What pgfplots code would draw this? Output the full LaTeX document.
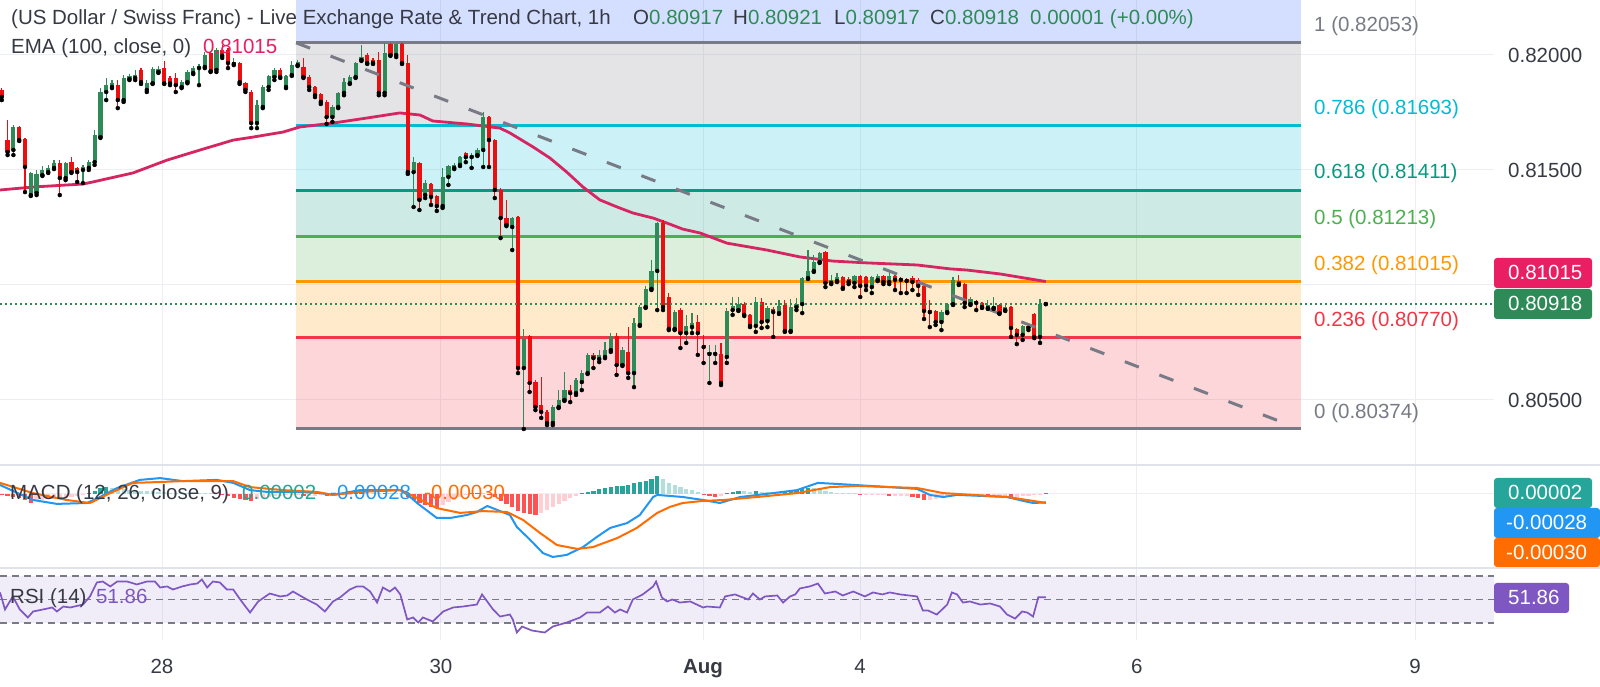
\documentclass[border=0pt]{standalone}
\usepackage{fontspec}
\setmainfont{Liberation Sans}
\usepackage{pgfplots}
\usepackage{pgfplotstable}
\pgfplotsset{compat=1.18}

\definecolor{cgreen}{RGB}{46,139,87}
\definecolor{cred}{RGB}{235,15,15}
\definecolor{ema}{RGB}{214,38,98}
\definecolor{fibgray}{RGB}{120,123,134}
\definecolor{fibcyan}{RGB}{0,188,212}
\definecolor{fibteal}{RGB}{8,153,129}
\definecolor{fibgreen}{RGB}{76,175,80}
\definecolor{fiborange}{RGB}{255,152,0}
\definecolor{fibred}{RGB}{242,54,69}
\definecolor{fibblue}{RGB}{41,98,255}
\definecolor{gridc}{RGB}{236,238,243}
\definecolor{txt}{RGB}{55,58,68}
\definecolor{macdblue}{RGB}{33,150,243}
\definecolor{macdorange}{RGB}{255,109,0}
\definecolor{hteal}{RGB}{38,166,154}
\definecolor{hlteal}{RGB}{178,223,219}
\definecolor{hred}{RGB}{255,82,82}
\definecolor{hpink}{RGB}{255,205,210}
\definecolor{rsic}{RGB}{126,87,194}
\definecolor{pinkbox}{RGB}{233,30,99}
\definecolor{sepc}{RGB}{224,227,235}

\newcommand\tvf{\fontsize{20.5}{24}\selectfont}

% hourly candles: index, open, high, low, close
\pgfplotstableread{
i o h l c
0 0.81848 0.81856 0.81804 0.81818
1 0.81630 0.81717 0.81565 0.81578
2 0.81587 0.81695 0.81565 0.81687
3 0.81687 0.81691 0.81626 0.81630
4 0.81634 0.81639 0.81404 0.81513
5 0.81391 0.81491 0.81387 0.81487
6 0.81400 0.81500 0.81391 0.81483
7 0.81478 0.81517 0.81474 0.81500
8 0.81491 0.81522 0.81487 0.81509
9 0.81509 0.81543 0.81504 0.81530
10 0.81530 0.81543 0.81391 0.81465
11 0.81465 0.81535 0.81456 0.81530
12 0.81534 0.81556 0.81487 0.81491
13 0.81509 0.81513 0.81448 0.81491
14 0.81500 0.81522 0.81443 0.81513
15 0.81509 0.81543 0.81500 0.81534
16 0.81534 0.81674 0.81522 0.81652
17 0.81643 0.81856 0.81639 0.81839
18 0.81839 0.81899 0.81804 0.81869
19 0.81861 0.81891 0.81856 0.81877
20 0.81869 0.81891 0.81769 0.81804
21 0.81804 0.81913 0.81796 0.81900
22 0.81895 0.81917 0.81891 0.81909
23 0.81900 0.81935 0.81891 0.81913
24 0.81935 0.81943 0.81874 0.81882
25 0.81848 0.81891 0.81839 0.81877
26 0.81877 0.81948 0.81874 0.81939
27 0.81926 0.81952 0.81922 0.81939
28 0.81943 0.81974 0.81874 0.81877
29 0.81900 0.81909 0.81869 0.81877
30 0.81900 0.81922 0.81839 0.81869
31 0.81861 0.81891 0.81856 0.81882
32 0.81882 0.81935 0.81877 0.81926
33 0.81922 0.81952 0.81917 0.81943
34 0.81943 0.81961 0.81869 0.81952
35 0.81948 0.82013 0.81943 0.82000
36 0.82009 0.82013 0.81926 0.81930
37 0.81935 0.82030 0.81926 0.82022
38 0.82022 0.82043 0.81987 0.81996
39 0.82022 0.82030 0.81943 0.81965
40 0.81961 0.81987 0.81956 0.81970
41 0.81965 0.81970 0.81874 0.81882
42 0.81877 0.81882 0.81839 0.81848
43 0.81839 0.81848 0.81682 0.81704
44 0.81704 0.81804 0.81682 0.81783
45 0.81774 0.81869 0.81769 0.81861
46 0.81861 0.81913 0.81848 0.81909
47 0.81904 0.81943 0.81891 0.81935
48 0.81935 0.81943 0.81900 0.81904
49 0.81861 0.81913 0.81856 0.81909
50 0.81913 0.81974 0.81909 0.81956
51 0.81956 0.81978 0.81952 0.81970
52 0.81948 0.81987 0.81900 0.81904
53 0.81904 0.81913 0.81848 0.81861
54 0.81861 0.81865 0.81817 0.81825
55 0.81830 0.81835 0.81787 0.81796
56 0.81796 0.81804 0.81700 0.81730
57 0.81730 0.81783 0.81709 0.81774
58 0.81774 0.81839 0.81769 0.81835
59 0.81835 0.81900 0.81825 0.81882
60 0.81877 0.81913 0.81874 0.81904
61 0.81904 0.81970 0.81900 0.81965
62 0.81978 0.82043 0.81974 0.81991
63 0.82000 0.82009 0.81961 0.81965
64 0.81978 0.81987 0.81961 0.81965
65 0.81978 0.82013 0.81825 0.81835
66 0.81835 0.82052 0.81825 0.82009
67 0.82048 0.82053 0.81996 0.82000
68 0.82000 0.82053 0.81991 0.82048
69 0.82048 0.82052 0.81961 0.81965
70 0.81965 0.82000 0.81483 0.81491
71 0.81491 0.81556 0.81339 0.81534
72 0.81530 0.81534 0.81326 0.81370
73 0.81391 0.81456 0.81378 0.81443
74 0.81439 0.81443 0.81348 0.81383
75 0.81387 0.81391 0.81322 0.81343
76 0.81343 0.81509 0.81335 0.81470
77 0.81470 0.81522 0.81435 0.81517
78 0.81509 0.81530 0.81504 0.81522
79 0.81522 0.81561 0.81517 0.81556
80 0.81574 0.81578 0.81534 0.81556
81 0.81556 0.81574 0.81509 0.81565
82 0.81565 0.81596 0.81561 0.81587
83 0.81587 0.81752 0.81513 0.81730
84 0.81730 0.81735 0.81513 0.81630
85 0.81630 0.81634 0.81378 0.81413
86 0.81413 0.81422 0.81204 0.81291
87 0.81291 0.81370 0.81256 0.81261
88 0.81252 0.81296 0.81152 0.81291
89 0.81296 0.81300 0.80617 0.80639
90 0.80639 0.80809 0.80374 0.80765
91 0.80778 0.80783 0.80535 0.80574
92 0.80578 0.80587 0.80456 0.80469
93 0.80478 0.80600 0.80422 0.80448
94 0.80448 0.80456 0.80391 0.80400
95 0.80400 0.80478 0.80391 0.80469
96 0.80469 0.80543 0.80465 0.80500
97 0.80500 0.80622 0.80496 0.80543
98 0.80543 0.80565 0.80491 0.80530
99 0.80530 0.80596 0.80522 0.80587
100 0.80578 0.80630 0.80543 0.80617
101 0.80617 0.80704 0.80613 0.80696
102 0.80696 0.80704 0.80639 0.80682
103 0.80678 0.80717 0.80665 0.80696
104 0.80687 0.80752 0.80682 0.80717
105 0.80717 0.80791 0.80709 0.80778
106 0.80778 0.80791 0.80609 0.80652
107 0.80652 0.80730 0.80648 0.80717
108 0.80709 0.80817 0.80596 0.80617
109 0.80617 0.80856 0.80556 0.80835
110 0.80826 0.80913 0.80822 0.80904
111 0.80904 0.80996 0.80900 0.80983
112 0.80983 0.81109 0.80978 0.81061
113 0.81061 0.81274 0.80891 0.81269
114 0.81269 0.81283 0.80891 0.80904
115 0.80948 0.80965 0.80804 0.80809
116 0.80809 0.80891 0.80804 0.80882
117 0.80891 0.80900 0.80726 0.80791
118 0.80791 0.80870 0.80748 0.80822
119 0.80817 0.80878 0.80791 0.80835
120 0.80839 0.80870 0.80696 0.80791
121 0.80739 0.80783 0.80661 0.80730
122 0.80700 0.80739 0.80574 0.80709
123 0.80700 0.80739 0.80661 0.80709
124 0.80700 0.80748 0.80565 0.80574
125 0.80687 0.80900 0.80661 0.80887
126 0.80891 0.80948 0.80870 0.80909
127 0.80891 0.80948 0.80887 0.80917
128 0.80917 0.80926 0.80865 0.80870
129 0.80870 0.80874 0.80817 0.80822
130 0.80822 0.80948 0.80796 0.80926
131 0.80926 0.80943 0.80813 0.80839
132 0.80843 0.80909 0.80817 0.80900
133 0.80896 0.80904 0.80774 0.80882
134 0.80878 0.80935 0.80874 0.80909
135 0.80913 0.80935 0.80796 0.80800
136 0.80800 0.80939 0.80796 0.80904
137 0.80904 0.80943 0.80891 0.80917
138 0.80917 0.81035 0.80878 0.81030
139 0.81030 0.81152 0.81026 0.81061
140 0.81061 0.81130 0.81057 0.81100
141 0.81100 0.81143 0.81096 0.81139
142 0.81143 0.81148 0.80991 0.81009
143 0.81009 0.81043 0.81004 0.81022
144 0.81017 0.81052 0.81013 0.81035
145 0.81035 0.81039 0.80983 0.80987
146 0.81026 0.81035 0.81004 0.81013
147 0.81009 0.81043 0.80991 0.81039
148 0.81039 0.81043 0.80948 0.80996
149 0.81035 0.81039 0.80978 0.80996
150 0.80991 0.81039 0.80965 0.81035
151 0.81022 0.81048 0.81017 0.81039
152 0.81039 0.81043 0.81004 0.81013
153 0.81013 0.81057 0.81004 0.81039
154 0.81039 0.81043 0.80978 0.81022
155 0.81030 0.81035 0.80965 0.81022
156 0.81026 0.81030 0.80965 0.81017
157 0.81030 0.81039 0.80978 0.81013
158 0.81022 0.81030 0.80957 0.80996
159 0.80996 0.81000 0.80852 0.80887
160 0.80891 0.80935 0.80817 0.80882
161 0.80887 0.80891 0.80826 0.80839
162 0.80839 0.80891 0.80804 0.80882
163 0.80882 0.80922 0.80878 0.80917
164 0.80917 0.81035 0.80913 0.81022
165 0.81017 0.81043 0.81000 0.81004
166 0.81004 0.81009 0.80904 0.80922
167 0.80917 0.80948 0.80913 0.80939
168 0.80930 0.80935 0.80891 0.80922
169 0.80922 0.80926 0.80900 0.80904
170 0.80900 0.80935 0.80896 0.80913
171 0.80900 0.80948 0.80896 0.80909
172 0.80913 0.80917 0.80874 0.80878
173 0.80891 0.80922 0.80887 0.80904
174 0.80904 0.80909 0.80774 0.80813
175 0.80809 0.80813 0.80743 0.80783
176 0.80783 0.80826 0.80761 0.80822
177 0.80822 0.80826 0.80804 0.80813
178 0.80874 0.80878 0.80769 0.80774
179 0.80774 0.80939 0.80748 0.80917
180 0.80917 0.80921 0.80917 0.80918
}\candles

% EMA(100, close)
\pgfplotstableread{
i v
-0.31 0.81413
5.38 0.81426
14.0 0.81439
15.7 0.81448
22.6 0.81487
28.5 0.81543
34.2 0.81587
39.9 0.81630
43.3 0.81643
48.5 0.81665
51.4 0.81687
57.1 0.81704
62.96 0.81726
68.6 0.81748
72.1 0.81739
74.3 0.81713
80.2 0.81700
85.9 0.81682
87.6 0.81661
91.6 0.81600
94.5 0.81552
97.4 0.81491
100.2 0.81426
103.1 0.81370
106.1 0.81339
108.8 0.81313
112.3 0.81291
114.7 0.81269
117.4 0.81243
120.4 0.81226
125.0 0.81182
131.9 0.81152
137.6 0.81122
143.3 0.81104
149.2 0.81096
157.8 0.81087
163.5 0.81070
166.4 0.81065
172.1 0.81048
180 0.81015
}\ema

% MACD line
\pgfplotstableread{
i v
-0.31 0.0003
5.38 -0.0002
9.5 -0.00033
14.7 -0.0003
16.9 -0.0001
19.9 0.0002
23.8 0.00047
27.3 0.00053
31.2 0.00043
37.1 0.00047
39.9 0.00037
42.8 0.00013
45.7 0.00007
51.4 0.00007
54.9 0.00003
57.1 -0.00003
61.8 0.00013
65.7 0.00013
68.7 0.00013
70.0 -0.00003
71.6 -0.0003
75.0 -0.0008
77.3 -0.0008
80.2 -0.0007
81.9 -0.0006
83.7 -0.0004
85.4 -0.00053
87.6 -0.0007
88.8 -0.0011
91.1 -0.00153
93.3 -0.00197
95.0 -0.0021
97.4 -0.00203
100.2 -0.00177
102.6 -0.00143
104.9 -0.00113
107.8 -0.00097
110.0 -0.0007
112.3 -0.0001
113.0 -0.00003
117.4 -0.0001
120.9 -0.0002
123.8 -0.0003
127.3 -0.0001
133.0 0.00003
137.1 0.00013
140.7 0.00037
144.5 0.00033
153.1 0.00023
157.8 0.00017
160.0 -0.00003
162.3 -0.0001
164.7 -0.00003
173.3 -0.0001
176.1 -0.00023
177.8 -0.0003
180 -0.00028
}\macd

% signal line
\pgfplotstableread{
i v
-0.31 0.00037
5.38 0.00003
11.2 -0.0002
15.2 -0.0003
18.7 0.00003
22.6 0.00037
27.3 0.0004
31.2 0.00043
39.9 0.00043
42.8 0.00023
48.5 0.00013
54.3 0.00007
57.1 -0.00003
61.8 0.00007
68.7 0.00013
71.6 -0.00013
75.0 -0.00047
79.0 -0.00063
83.0 -0.00057
87.1 -0.0006
89.9 -0.00087
92.8 -0.0013
95.7 -0.0017
99.2 -0.00183
101.9 -0.00177
106.1 -0.00147
109.5 -0.00113
113.0 -0.00063
115.2 -0.00043
117.4 -0.0003
120.9 -0.00023
124.4 -0.0002
130.2 -0.0001
137.1 0.00003
142.8 0.00023
147.5 0.00027
153.1 0.00023
157.8 0.0002
162.3 0.00003
167.5 -0.00003
173.3 -0.0001
177.8 -0.00023
180 -0.0003
}\signal

% histogram: falling below zero
\pgfplotstableread{
i v
0 -0.000033
1 -0.000067
2 -0.0001
3 -0.000133
4 -0.0002
5 -0.0003
38 -0.000033
39 -0.000067
40 -0.000133
41 -0.000167
42 -0.0002
43 -0.000217
52 -0.000067
56 -0.000067
70 -0.0001
71 -0.0002
72 -0.0003
73 -0.000367
74 -0.000433
75 -0.000467
84 -0.000033
85 -0.0001
86 -0.000233
87 -0.000333
88 -0.000433
89 -0.000567
90 -0.000633
91 -0.000667
92 -0.0007
121 -0.000033
122 -0.000067
123 -0.0001
148 -0.000033
153 -0.000067
157 -0.0001
158 -0.000133
159 -0.0002
166 -0.000067
170 -0.0001
174 -0.000133
}\hneg

% histogram: rising below zero
\pgfplotstableread{
i v
6 -0.000233
7 -0.0002
8 -0.000167
9 -0.000167
10 -0.000133
11 -0.000133
12 -0.0001
13 -0.000067
14 -0.000033
44 -0.000167
45 -0.000133
46 -0.0001
47 -0.000067
48 -0.000067
49 -0.000033
50 -0.000033
51 -0.000033
53 -0.000067
54 -0.000067
55 -0.000033
57 -0.000033
58 -0.000033
59 -0.000033
60 -0.000017
76 -0.000367
77 -0.000267
78 -0.0002
79 -0.0001
80 -0.000033
93 -0.000633
94 -0.000533
95 -0.000433
96 -0.000333
97 -0.000233
98 -0.000133
99 -0.000067
124 -0.000067
149 -0.000033
150 -0.000033
151 -0.000033
152 -0.000033
154 -0.000067
155 -0.000067
156 -0.000067
160 -0.0002
161 -0.000167
162 -0.000133
163 -0.0001
164 -0.000067
165 -0.000033
167 -0.000067
168 -0.000067
169 -0.000067
171 -0.0001
172 -0.0001
173 -0.0001
175 -0.000133
176 -0.000067
177 -0.000067
178 -0.000033
179 -0.000017
}\hnegup

% histogram: rising above zero
\pgfplotstableread{
i v
15 0.000033
16 0.0001
17 0.0002
18 0.000233
61 0.000017
62 0.000033
66 0.000033
81 0.000017
82 0.000033
100 0.000033
101 0.000067
102 0.0001
103 0.000167
104 0.0002
105 0.000233
106 0.000267
107 0.000283
108 0.0003
109 0.000367
110 0.0004
111 0.000433
112 0.0005
113 0.0006
125 0.000033
126 0.000067
127 0.0001
130 0.0001
135 0.0001
136 0.000117
137 0.000133
138 0.000167
139 0.0002
180 0.00002
}\hpos

% histogram: falling above zero
\pgfplotstableread{
i v
19 0.0002
20 0.000167
21 0.000167
22 0.000133
23 0.000133
24 0.0001
25 0.0001
26 0.0001
27 0.000067
28 0.000067
29 0.000033
30 0.000033
31 0.000033
32 0.000033
33 0.000033
34 0.000033
35 0.000033
36 0.000017
37 0.000017
63 0.000033
64 0.000033
65 0.000017
67 0.000033
68 0.000033
69 0.000017
83 0.000017
114 0.0005
115 0.000367
116 0.0003
117 0.000233
118 0.000167
119 0.000133
120 0.000067
128 0.0001
129 0.000067
131 0.000067
132 0.000067
133 0.000067
134 0.000067
140 0.0002
141 0.000167
142 0.0001
143 0.000067
144 0.000033
145 0.000033
146 0.000017
147 0.000017
}\hposdn

% RSI(14)
\pgfplotstableread{
i v
-0.3 56.0
0.55 41.5
1.9 52.6
3.1 41.5
4.5 34.7
5.4 39.8
7.1 41.5
8.7 43.2
9.5 39.8
10.6 44.0
11.8 43.2
14.0 45.7
15.2 52.6
16.4 64.5
17.4 65.3
18.7 61.1
19.9 65.3
21.6 65.3
23.3 62.8
25.0 65.3
26.4 65.3
27.3 60.2
28.5 61.1
29.5 58.5
31.1 61.1
32.5 62.8
33.7 63.6
34.5 67.0
35.4 60.2
36.4 65.3
37.6 64.5
38.8 58.5
39.9 58.5
41.1 50.0
42.8 38.9
44.2 48.3
46.2 55.1
48.0 52.6
49.2 53.4
50.2 56.8
52.6 50.0
54.3 45.7
55.7 39.8
57.1 48.3
58.3 51.7
60.0 58.5
61.2 61.1
62.3 61.1
63.5 56.8
64.7 47.4
65.7 60.2
66.9 56.8
67.8 60.2
68.7 54.3
69.9 33.0
70.9 34.7
71.8 30.4
72.6 34.7
74.3 31.3
76.1 39.8
77.8 43.2
79.5 44.0
81.9 45.7
82.8 54.3
84.7 41.5
85.9 35.5
87.6 37.2
88.1 33.0
88.8 21.9
89.7 27.0
91.4 23.6
93.6 21.9
95.0 27.0
97.4 30.4
99.7 34.7
100.9 38.9
103.1 38.9
104.5 44.0
105.7 38.9
106.6 41.5
107.8 38.9
108.8 50.0
110.5 54.3
112.3 61.1
112.8 65.3
113.8 51.7
114.7 48.3
115.6 50.0
116.9 47.4
118.7 48.3
120.9 43.2
121.6 44.0
123.8 43.2
124.7 52.6
126.4 54.3
128.7 50.0
129.5 55.1
130.7 50.0
131.6 52.6
133.7 53.4
134.7 47.4
135.9 52.6
136.8 54.3
137.6 59.4
139.3 61.1
140.7 63.6
141.9 55.1
143.7 56.8
145.0 53.4
146.8 56.8
148.8 52.6
150.2 56.0
151.8 54.3
153.1 56.0
154.9 54.3
157.8 52.6
158.8 40.6
159.7 40.6
161.2 37.2
163.0 45.7
163.8 56.0
164.7 54.3
165.7 47.4
166.9 48.3
168.7 45.7
170.4 46.6
172.1 44.0
173.3 37.2
174.7 33.8
175.9 39.8
176.8 38.9
177.8 35.5
178.7 51.9
180 51.86
}\rsi

\pgfplotsset{
  tvpanel/.style={
    scale only axis, width=1494pt, anchor=south west,
    xmin=-0.31, xmax=257.27,
    axis line style={draw=none}, major tick length=0pt,
    xtick={27.62,75.72,120.9,147.97,195.7,243.66},
    grid style={gridc, line width=1pt},
    scaled ticks=false,
  },
  wick/.style={only marks, mark=none, forget plot,
    error bars/y dir=plus, error bars/y explicit, error bars/error mark=none,
    error bars/error bar style={draw=#1, line width=1.3pt}},
  body/.style={only marks, mark=none, forget plot,
    error bars/y dir=plus, error bars/y explicit, error bars/error mark=none,
    error bars/error bar style={draw=#1, line width=4.2pt}},
}

\begin{document}
\begin{tikzpicture}
\useasboundingbox (0pt,0pt) rectangle (1600pt,687pt);
\fill[white] (0pt,0pt) rectangle (1600pt,687pt);

% ---------------- price panel ----------------
\begin{axis}[tvpanel, height=465pt, at={(0pt,222pt)},
  ymin=0.802174, ymax=0.822391,
  xticklabels={}, xmajorgrids, ymajorgrids,
  ytick={0.805,0.815,0.82}, yticklabel pos=right,
  extra y ticks={0.81}, extra y tick labels={},
  extra y tick style={grid=major},
  yticklabel style={anchor=west, inner sep=0pt, xshift=14pt, font=\tvf, text=txt,
    /pgf/number format/fixed, /pgf/number format/fixed zerofill,
    /pgf/number format/precision=5, /pgf/number format/assume math mode=true},
]
% Fibonacci zones
\addplot[fill=fibblue, fill opacity=0.2, draw=none] coordinates {(50.73,0.82053) (224,0.82053) (224,0.822391) (50.73,0.822391)} -- cycle;
\addplot[fill=fibgray, fill opacity=0.2, draw=none] coordinates {(50.73,0.82053) (224,0.82053) (224,0.81693) (50.73,0.81693)} -- cycle;
\addplot[fill=fibcyan, fill opacity=0.2, draw=none] coordinates {(50.73,0.81693) (224,0.81693) (224,0.81411) (50.73,0.81411)} -- cycle;
\addplot[fill=fibteal, fill opacity=0.2, draw=none] coordinates {(50.73,0.81411) (224,0.81411) (224,0.81213) (50.73,0.81213)} -- cycle;
\addplot[fill=fibgreen, fill opacity=0.2, draw=none] coordinates {(50.73,0.81213) (224,0.81213) (224,0.81015) (50.73,0.81015)} -- cycle;
\addplot[fill=fiborange, fill opacity=0.2, draw=none] coordinates {(50.73,0.81015) (224,0.81015) (224,0.80770) (50.73,0.80770)} -- cycle;
\addplot[fill=fibred, fill opacity=0.2, draw=none] coordinates {(50.73,0.80770) (224,0.80770) (224,0.80374) (50.73,0.80374)} -- cycle;
% Fibonacci levels
\addplot[fibgray, line width=3pt] coordinates {(50.73,0.82053) (224,0.82053)};
\addplot[fibcyan, line width=3pt] coordinates {(50.73,0.81693) (224,0.81693)};
\addplot[fibteal, line width=3pt] coordinates {(50.73,0.81411) (224,0.81411)};
\addplot[fibgreen, line width=3pt] coordinates {(50.73,0.81213) (224,0.81213)};
\addplot[fiborange, line width=3pt] coordinates {(50.73,0.81015) (224,0.81015)};
\addplot[fibred, line width=3pt] coordinates {(50.73,0.80770) (224,0.80770)};
\addplot[fibgray, line width=3pt] coordinates {(50.73,0.80374) (224,0.80374)};
% EMA
\addplot[ema, line width=2.8pt, mark=none] table[x=i, y=v] {\ema};
% candles
\addplot[restrict expr to domain={\thisrow{c}-\thisrow{o}}{0:1}, wick=cgreen]
  table[x=i, y=l, y error plus expr=\thisrow{h}-\thisrow{l}] {\candles};
\addplot[restrict expr to domain={\thisrow{o}-\thisrow{c}}{0:1}, wick=cred]
  table[x=i, y=l, y error plus expr=\thisrow{h}-\thisrow{l}] {\candles};
\addplot[restrict expr to domain={\thisrow{c}-\thisrow{o}}{0:1}, body=cgreen]
  table[x=i, y=o, y error plus expr=\thisrow{c}-\thisrow{o}] {\candles};
\addplot[restrict expr to domain={\thisrow{o}-\thisrow{c}}{0:1}, body=cred]
  table[x=i, y=c, y error plus expr=\thisrow{o}-\thisrow{c}] {\candles};
% trend line
\addplot[fibgray, line width=3pt, dash pattern=on 15pt off 22pt] coordinates {(50.73,0.82053) (221.6,0.80395)};
% last price
\addplot[cgreen, line width=1.5pt, dash pattern=on 1.5pt off 3.5pt] coordinates {(-0.31,0.80918) (257.27,0.80918)};
\end{axis}

% ---------------- MACD panel ----------------
\begin{axis}[tvpanel, height=103pt, at={(0pt,119pt)},
  ymin=-0.002467, ymax=0.000967,
  xticklabels={}, xmajorgrids, ymajorgrids, ytick={0}, yticklabels={},
]
\addplot[ycomb, hred, line width=4.2pt, mark=none] table[x=i, y=v] {\hneg};
\addplot[ycomb, hpink, line width=4.2pt, mark=none] table[x=i, y=v] {\hnegup};
\addplot[ycomb, hteal, line width=4.2pt, mark=none] table[x=i, y=v] {\hpos};
\addplot[ycomb, hlteal, line width=4.2pt, mark=none] table[x=i, y=v] {\hposdn};
\addplot[macdblue, line width=2pt, mark=none] table[x=i, y=v] {\macd};
\addplot[macdorange, line width=2pt, mark=none] table[x=i, y=v] {\signal};
\end{axis}

% ---------------- RSI panel ----------------
\begin{axis}[tvpanel, height=72pt, at={(0pt,47pt)},
  ymin=15.53, ymax=76.8, ytick=\empty,
  xmajorgrids,
  xticklabels={28,30,\textbf{Aug},4,6,9},
  xticklabel style={font=\tvf, text=txt, anchor=base, inner sep=0pt, yshift=-34pt},
]
\addplot[fill=rsic, fill opacity=0.1, draw=none] coordinates {(-0.31,70) (257.27,70) (257.27,30) (-0.31,30)} -- cycle;
\addplot[fibgray, line width=1.3pt, dash pattern=on 7pt off 5pt] coordinates {(-0.31,70) (257.27,70)};
\addplot[fibgray, line width=1.3pt, dash pattern=on 7pt off 5pt] coordinates {(-0.31,50) (257.27,50)};
\addplot[fibgray, line width=1.3pt, dash pattern=on 7pt off 5pt] coordinates {(-0.31,30) (257.27,30)};
\addplot[rsic, line width=1.7pt, mark=none] table[x=i, y=v] {\rsi};
\end{axis}

% panel separators
\draw[sepc, line width=1.5pt] (0pt,222pt) -- (1600pt,222pt);
\draw[sepc, line width=1.5pt] (0pt,119pt) -- (1600pt,119pt);

% legends / titles
\node[anchor=base west, inner sep=0pt, font=\tvf, text=txt] at (11pt,662pt)
  {(US Dollar / Swiss Franc) - Live Exchange Rate \& Trend Chart, 1h};
\node[anchor=base west, inner sep=0pt, font=\tvf, text=txt] at (633pt,662pt) {O\textcolor{cgreen}{0.80917}};
\node[anchor=base west, inner sep=0pt, font=\tvf, text=txt] at (733pt,662pt) {H\textcolor{cgreen}{0.80921}};
\node[anchor=base west, inner sep=0pt, font=\tvf, text=txt] at (834pt,662pt) {L\textcolor{cgreen}{0.80917}};
\node[anchor=base west, inner sep=0pt, font=\tvf, text=txt] at (930pt,662pt) {C\textcolor{cgreen}{0.80918}};
\node[anchor=base west, inner sep=0pt, font=\tvf, text=cgreen] at (1030pt,662pt) {0.00001 (+0.00\%)};
\node[anchor=base west, inner sep=0pt, font=\tvf, text=txt] at (11pt,633pt) {EMA (100, close, 0)};
\node[anchor=base west, inner sep=0pt, font=\tvf, text=pinkbox] at (203pt,633pt) {0.81015};

\node[anchor=base west, inner sep=0pt, font=\tvf, text=txt] at (10pt,187pt) {MACD (12, 26, close, 9)};
\node[anchor=base west, inner sep=0pt, font=\tvf, text=hteal] at (242pt,187pt) {0.00002};
\node[anchor=base west, inner sep=0pt, font=\tvf, text=macdblue] at (330pt,187pt) {-0.00028};
\node[anchor=base west, inner sep=0pt, font=\tvf, text=macdorange] at (424pt,187pt) {-0.00030};

\node[anchor=base west, inner sep=0pt, font=\tvf, text=txt] at (10pt,83pt) {RSI (14)};
\node[anchor=base west, inner sep=0pt, font=\tvf, text=rsic] at (96pt,83pt) {51.86};

% Fibonacci labels
\node[anchor=base west, inner sep=0pt, font=\tvf, text=fibgray] at (1314pt,655pt) {1 (0.82053)};
\node[anchor=base west, inner sep=0pt, font=\tvf, text=fibcyan] at (1314pt,572pt) {0.786 (0.81693)};
\node[anchor=base west, inner sep=0pt, font=\tvf, text=fibteal] at (1314pt,508pt) {0.618 (0.81411)};
\node[anchor=base west, inner sep=0pt, font=\tvf, text=fibgreen] at (1314pt,462pt) {0.5 (0.81213)};
\node[anchor=base west, inner sep=0pt, font=\tvf, text=fiborange] at (1314pt,416pt) {0.382 (0.81015)};
\node[anchor=base west, inner sep=0pt, font=\tvf, text=fibred] at (1314pt,360pt) {0.236 (0.80770)};
\node[anchor=base west, inner sep=0pt, font=\tvf, text=fibgray] at (1314pt,268pt) {0 (0.80374)};

% price-scale boxes
\fill[pinkbox, rounded corners=3pt] (1494pt,399pt) rectangle (1592pt,429pt);
\node[anchor=base west, inner sep=0pt, font=\tvf, text=white] at (1508pt,407pt) {0.81015};
\fill[cgreen, rounded corners=3pt] (1494pt,368pt) rectangle (1592pt,398pt);
\node[anchor=base west, inner sep=0pt, font=\tvf, text=white] at (1508pt,376pt) {0.80918};

\fill[hteal, rounded corners=3pt] (1494pt,179pt) rectangle (1592pt,209pt);
\node[anchor=base west, inner sep=0pt, font=\tvf, text=white] at (1508pt,187pt) {0.00002};
\fill[macdblue, rounded corners=3pt] (1494pt,149pt) rectangle (1600pt,179pt);
\node[anchor=base west, inner sep=0pt, font=\tvf, text=white] at (1506pt,157pt) {-0.00028};
\fill[macdorange, rounded corners=3pt] (1494pt,120pt) rectangle (1600pt,149pt);
\node[anchor=base west, inner sep=0pt, font=\tvf, text=white] at (1506pt,127.5pt) {-0.00030};

\fill[rsic, rounded corners=3pt] (1494pt,74pt) rectangle (1569pt,104pt);
\node[anchor=base west, inner sep=0pt, font=\tvf, text=white] at (1508pt,82pt) {51.86};
\end{tikzpicture}
\end{document}
